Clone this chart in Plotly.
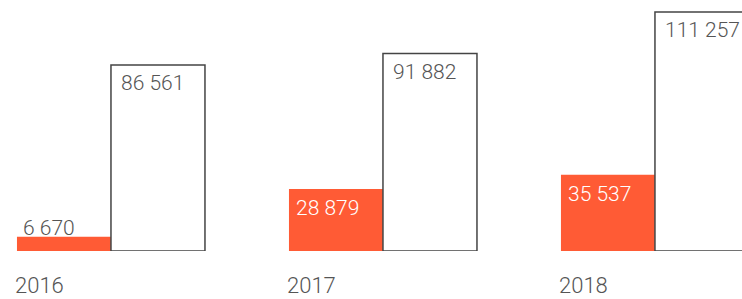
import plotly.graph_objects as go

years = ["2016", "2017", "2018"]
orange_vals = [6670, 28879, 35537]
white_vals = [86561, 91882, 111257]
orange_labels = ["6 670", "28 879", "35 537"]
white_labels = ["86 561", "91 882", "111 257"]

ORANGE = "#ff5b35"
W = 0.3456
xs = list(range(len(years)))

fig = go.Figure()
fig.add_bar(x=xs, y=orange_vals, width=W, offset=-W,
            marker=dict(color=ORANGE, line=dict(width=0)), hoverinfo="skip")
fig.add_bar(x=xs, y=white_vals, width=W, offset=0,
            marker=dict(color="white", line=dict(color="#444444", width=1.5)), hoverinfo="skip")

font = dict(family="Roboto", size=21, weight=300)
yfont = dict(family="Roboto", size=22, weight=300, color="#555555")
ann = []
for i, (ov, wv, ol, wl, yr) in enumerate(zip(orange_vals, white_vals, orange_labels, white_labels, years)):
    ann.append(dict(x=i, y=wv, xref="x", yref="y", text=wl, showarrow=False,
                    xanchor="left", yanchor="top", xshift=8, yshift=-4,
                    font=dict(font, color="#555555")))
    if ov > 15000:
        ann.append(dict(x=i - W, y=ov, xref="x", yref="y", text=ol, showarrow=False,
                        xanchor="left", yanchor="top", xshift=5, yshift=-5,
                        font=dict(font, color="white")))
    else:
        ann.append(dict(x=i - W, y=ov, xref="x", yref="y", text=ol, showarrow=False,
                        xanchor="left", yanchor="bottom", xshift=4, yshift=-5,
                        font=dict(font, color="#555555")))
    ann.append(dict(x=i - W, y=0, xref="x", yref="paper", text=yr, showarrow=False,
                    xanchor="left", yanchor="bottom", xshift=-3, yshift=-48,
                    borderpad=0, font=yfont))

fig.update_layout(
    width=742, height=299,
    margin=dict(l=0, r=0, t=0, b=48),
    paper_bgcolor="white", plot_bgcolor="white",
    showlegend=False, barmode="overlay",
    annotations=ann,
    xaxis=dict(range=[-0.408, 2.320], visible=False, fixedrange=True),
    yaxis=dict(range=[0, 116843], visible=False, fixedrange=True),
)
fig.write_html("out.html", config={"displayModeBar": False},
               post_script="document.body.style.margin='0';document.body.style.overflow='hidden';")
